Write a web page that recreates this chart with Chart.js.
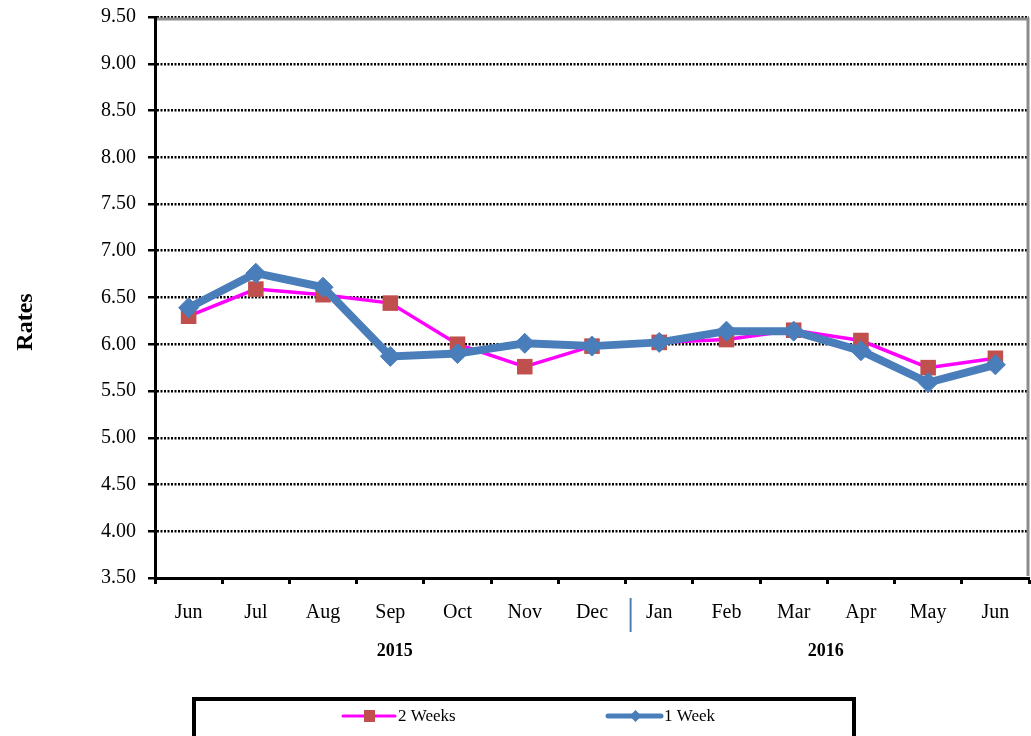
<!DOCTYPE html>
<html>
<head>
<meta charset="utf-8">
<script src="https://cdn.jsdelivr.net/npm/chart.js@4/dist/chart.umd.min.js"></script>
<style>
  html, body { margin: 0; padding: 0; background: #fff; }
  #wrap { width: 1031px; height: 736px; }
</style>
</head>
<body>
<div id="wrap"><canvas id="rates" width="1031" height="736"></canvas></div>
<script>
// --- dados ---
const months = ['Jun', 'Jul', 'Aug', 'Sep', 'Oct', 'Nov', 'Dec', 'Jan', 'Feb', 'Mar', 'Apr', 'May', 'Jun'];
const twoWeeks = [6.30, 6.59, 6.53, 6.44, 6.00, 5.76, 5.98, 6.02, 6.05, 6.15, 6.04, 5.75, 5.85];
const oneWeek = [6.39, 6.76, 6.61, 5.87, 5.90, 6.01, 5.98, 6.02, 6.14, 6.14, 5.93, 5.59, 5.78];
const years = ['2015', '2016'];
const yearSplit = 7; // index of first month of 2016

const serif = '"Liberation Serif", "Times New Roman", serif';

// extra drawing: plot frame, year labels, axis title and boxed legend
const decorPlugin = {
    id: 'decor',
    afterDraw(chart) {
        const ctx = chart.ctx;
        const area = chart.chartArea;
        const x = chart.scales.x;

        ctx.save();
        // grey plot frame (top + right)
        ctx.strokeStyle = '#8c8c8c';
        ctx.lineWidth = 3;
        ctx.beginPath();
        ctx.moveTo(area.left + 2, area.top + 2);
        ctx.lineTo(area.right - 1, area.top + 2);
        ctx.lineTo(area.right - 1, area.bottom - 2);
        ctx.stroke();

        // year separator
        const step = x.getPixelForValue(1) - x.getPixelForValue(0);
        const sepX = x.getPixelForValue(yearSplit) - step / 2 + 5;
        ctx.strokeStyle = '#4a7ebb';
        ctx.lineWidth = 2;
        ctx.beginPath();
        ctx.moveTo(sepX, area.bottom + 20);
        ctx.lineTo(sepX, area.bottom + 54);
        ctx.stroke();

        // year labels
        ctx.fillStyle = '#000';
        ctx.font = 'bold 18px ' + serif;
        ctx.textAlign = 'center';
        ctx.textBaseline = 'middle';
        ctx.fillText(years[0], (area.left + sepX) / 2 + 2, area.bottom + 73);
        ctx.fillText(years[1], (sepX + area.right) / 2 - 4, area.bottom + 73);

        // axis title
        ctx.save();
        ctx.translate(26, 322);
        ctx.rotate(-Math.PI / 2);
        ctx.font = 'bold 24px ' + serif;
        ctx.fillText('Rates', 0, 0);
        ctx.restore();

        // legend box
        ctx.strokeStyle = '#000';
        ctx.lineWidth = 4;
        ctx.strokeRect(194, 699, 660, 42);

        const ds = chart.data.datasets;
        const items = [
            { d: ds[0], x1: 343, x2: 395, tx: 398 },
            { d: ds[1], x1: 608, x2: 661, tx: 664 }
        ];
        const ly = 716;
        items.forEach(it => {
            ctx.strokeStyle = it.d.borderColor;
            ctx.lineWidth = it.d.borderWidth > 4 ? 5 : 3;
            ctx.lineCap = 'round';
            ctx.beginPath();
            ctx.moveTo(it.x1, ly);
            ctx.lineTo(it.x2, ly);
            ctx.stroke();
            ctx.fillStyle = it.d.pointBackgroundColor;
            const cx = (it.x1 + it.x2) / 2 + 1;
            if (it.d.pointStyle === 'rect') {
                ctx.fillRect(cx - 6, ly - 6, 11, 12);
            } else {
                ctx.beginPath();
                ctx.moveTo(cx, ly - 6);
                ctx.lineTo(cx + 6, ly);
                ctx.lineTo(cx, ly + 6);
                ctx.lineTo(cx - 6, ly);
                ctx.closePath();
                ctx.fill();
            }
            ctx.fillStyle = '#000';
            ctx.font = '17px ' + serif;
            ctx.textAlign = 'left';
            ctx.fillText(it.d.label, it.tx, ly + 1);
        });
        ctx.restore();
    }
};

new Chart(document.getElementById('rates'), {
    type: 'line',
    data: {
        labels: months,
        datasets: [
            {
                label: '2 Weeks',
                data: twoWeeks,
                borderColor: '#ff00ff',
                borderWidth: 3.5,
                pointStyle: 'rect',
                pointRadius: 11,
                pointBackgroundColor: '#c0504d',
                pointBorderColor: '#c0504d',
                pointBorderWidth: 0,
                tension: 0,
                order: 2
            },
            {
                label: '1 Week',
                data: oneWeek,
                borderColor: '#4a7ebb',
                borderWidth: 8,
                pointStyle: 'rectRot',
                pointRadius: 10,
                pointBackgroundColor: '#4a7ebb',
                pointBorderColor: '#4a7ebb',
                pointBorderWidth: 1,
                tension: 0,
                order: 1
            }
        ]
    },
    options: {
        responsive: false,
        animation: false,
        layout: { autoPadding: false, padding: { top: 17, right: 2, left: 0, bottom: 0 } },
        plugins: {
            legend: { display: false },
            tooltip: { enabled: false }
        },
        scales: {
            x: {
                offset: true,
                afterFit: s => { s.height = 158; s.paddingLeft = 0; s.paddingRight = 0; },
                grid: { offset: true, drawOnChartArea: false, drawTicks: true, tickLength: 6, tickColor: '#000', tickWidth: 3 },
                border: { color: '#000', width: 3 },
                ticks: { color: '#000', font: { family: serif, size: 20 }, padding: 17, autoSkip: false, maxRotation: 0 }
            },
            y: {
                min: 3.5,
                max: 9.5,
                afterFit: s => { s.width = 155; s.paddingTop = 0; s.paddingBottom = 0; },
                grid: { color: '#000', lineWidth: 2.5, drawTicks: true, tickLength: 7, tickColor: '#000', tickWidth: 2.5, tickBorderDash: [] },
                border: { color: '#000', width: 3, dash: [2, 1.5] },
                ticks: {
                    stepSize: 0.5,
                    color: '#000',
                    padding: 12,
                    font: { family: serif, size: 20 },
                    callback: v => Number(v).toFixed(2)
                }
            }
        }
    },
    plugins: [decorPlugin]
});
</script>
</body>
</html>
